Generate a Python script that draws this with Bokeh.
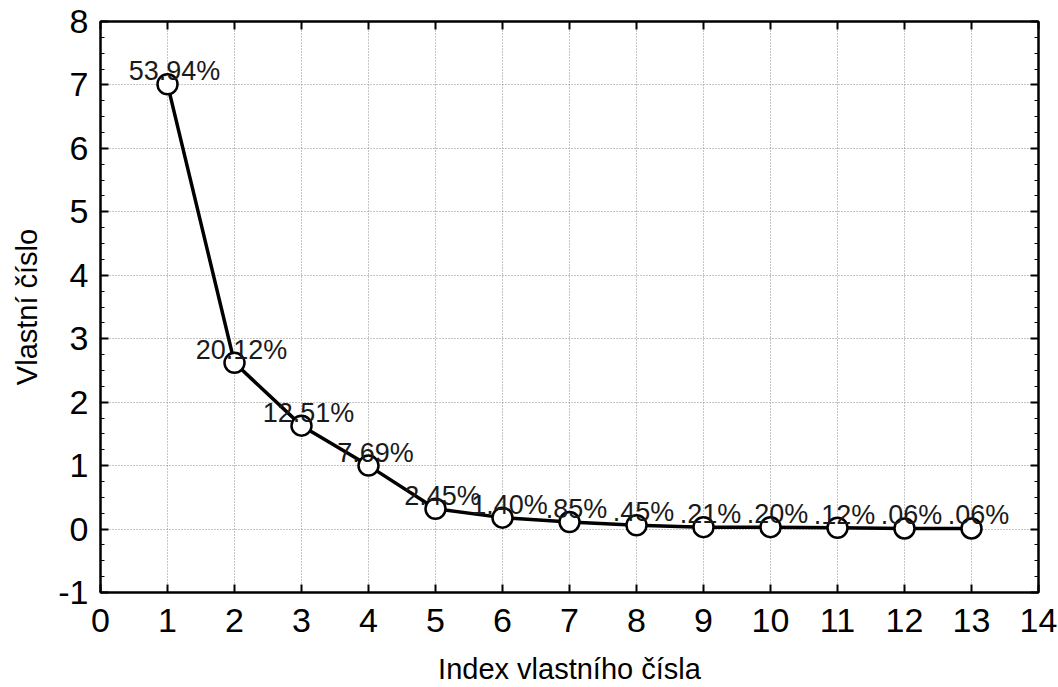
from bokeh.plotting import figure
from bokeh.models import LinearAxis, FixedTicker, ColumnDataSource, Range1d
from bokeh.embed import file_html
from bokeh.resources import INLINE
from bokeh.core.properties import value

index = [1, 2, 3, 4, 5, 6, 7, 8, 9, 10, 11, 12, 13]
eigenvalues = [7.01, 2.62, 1.63, 1.00, 0.32, 0.18, 0.11, 0.06, 0.03, 0.03, 0.02, 0.01, 0.01]
pct_labels = ["53.94%", "20.12%", "12.51%", "7.69%", "2.45%", "1.40%", ".85%",
              ".45%", ".21%", ".20%", ".12%", ".06%", ".06%"]
x_ticks = list(range(0, 15))
y_ticks = list(range(-1, 9))

FONT = "Liberation Sans"
minor_y = [t + f for t in y_ticks[:-1] for f in (0.25, 0.5, 0.75)]

src = ColumnDataSource(dict(x=index, y=eigenvalues, lab=pct_labels))

p = figure(width=1058, height=687, output_backend="svg", toolbar_location=None,
           x_range=Range1d(0, 14), y_range=Range1d(-1, 8),
           min_border_left=100, min_border_right=20, min_border_top=21, min_border_bottom=94)
p.background_fill_color = "white"
p.border_fill_color = "white"
p.outline_line_color = "black"
p.outline_line_width = 2

for ax in (p.xaxis[0], p.yaxis[0]):
    ax.major_label_text_font = FONT
    ax.major_label_text_font_size = "34px"
    ax.major_label_text_color = "black"
    ax.axis_label_text_font = FONT
    ax.axis_label_text_font_size = "29px"
    ax.axis_label_text_font_style = "normal"
    ax.axis_label_text_color = "black"
    ax.major_tick_in = 8
    ax.major_tick_out = 0
    ax.minor_tick_out = 0
    ax.major_tick_line_width = 2
    ax.axis_line_width = 2

p.xaxis.axis_label = "Index vlastního čísla"
p.yaxis.axis_label = "Vlastní číslo"
p.xaxis.ticker = FixedTicker(ticks=x_ticks)
p.yaxis.ticker = FixedTicker(ticks=y_ticks, minor_ticks=minor_y)
p.yaxis.major_label_overrides = {-1: "-1"}
p.xaxis.minor_tick_line_color = None
p.yaxis.minor_tick_in = 4
p.yaxis.minor_tick_line_width = 1
p.xaxis.major_label_standoff = 16
p.xaxis.axis_label_standoff = 18
p.yaxis.major_label_standoff = 12
p.yaxis.axis_label_standoff = 12

top = LinearAxis(ticker=FixedTicker(ticks=x_ticks), major_label_overrides={t: "" for t in x_ticks},
                 major_label_standoff=0, major_tick_in=8, major_tick_out=0,
                 major_tick_line_width=2, minor_tick_line_color=None, axis_line_width=2)
right = LinearAxis(ticker=FixedTicker(ticks=y_ticks, minor_ticks=minor_y),
                   major_label_overrides={t: "" for t in y_ticks}, major_label_standoff=0,
                   major_tick_in=8, major_tick_out=0, minor_tick_in=4, minor_tick_out=0,
                   major_tick_line_width=2, axis_line_width=2)
p.add_layout(top, "above")
p.add_layout(right, "right")

p.xgrid.ticker = FixedTicker(ticks=x_ticks)
p.ygrid.ticker = FixedTicker(ticks=y_ticks)
for g in (p.xgrid, p.ygrid):
    g.grid_line_color = "#8a8a8a"
    g.grid_line_dash = "1 2"
    g.grid_line_width = 1

p.line("x", "y", source=src, line_color="black", line_width=3.5)
p.scatter("x", "y", source=src, size=20, fill_color="white", line_color="black", line_width=2.5)
p.text("x", "y", text="lab", source=src, text_font=value(FONT), text_font_size="27px",
       text_align="center", text_baseline="alphabetic", x_offset=7, y_offset=-13, text_color="#1a1a1a")

open("out.html", "w").write(file_html(p, INLINE))
